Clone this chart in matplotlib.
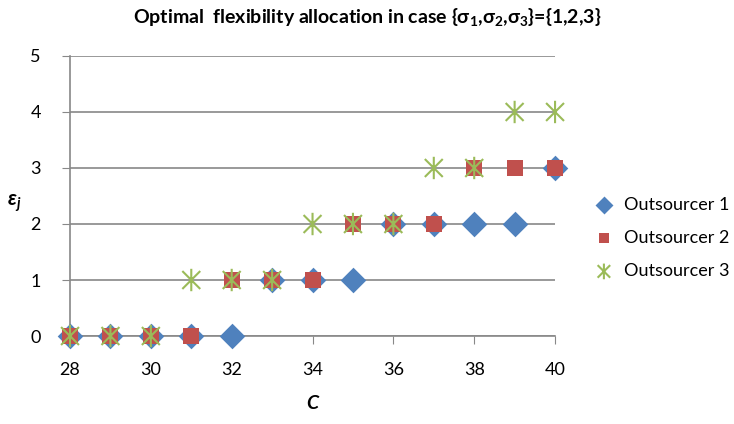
import numpy as np
import matplotlib.pyplot as plt
from matplotlib.path import Path

# Data
C = [28, 29, 30, 31, 32, 33, 34, 35, 36, 37, 38, 39, 40]
out1 = [0, 0, 0, 0, 0, 1, 1, 1, 2, 2, 2, 2, 3]
out2 = [0, 0, 0, 0, 1, 1, 1, 2, 2, 2, 3, 3, 3]
out3 = [0, 0, 0, 1, 1, 1, 2, 2, 2, 3, 3, 4, 4]
labels = ['Outsourcer 1', 'Outsourcer 2', 'Outsourcer 3']

plt.rcParams['font.family'] = ['Lato', 'DejaVu Sans']
plt.rcParams['mathtext.fontset'] = 'custom'
plt.rcParams['mathtext.rm'] = 'Lato:bold'
plt.rcParams['mathtext.it'] = 'Lato:bold:italic'
plt.rcParams['mathtext.bf'] = 'Lato:bold'

# Excel-style star: X plus vertical bar
star = Path([(-1, -1), (1, 1), (-1, 1), (1, -1), (0, -1.25), (0, 1.25)],
            [Path.MOVETO, Path.LINETO, Path.MOVETO, Path.LINETO, Path.MOVETO, Path.LINETO])

fig = plt.figure(figsize=(7.34, 4.24), dpi=100)
ax = fig.add_axes([0.0954, 0.2075, 0.6608, 0.6605])

ax.scatter(C, out1, marker='D', s=170, color='#4F81BD', label=labels[0], zorder=3,
           linewidths=0, clip_on=False)
ax.scatter(C, out2, marker='s', s=120, color='#C0504D', label=labels[1], zorder=4,
           linewidths=0, clip_on=False)
ax.scatter(C, out3, marker=star, s=260, facecolor='none', edgecolor='#9BBB59',
           linewidths=1.5, label=labels[2], zorder=5, clip_on=False)

ax.set_xlim(28, 40)
ax.set_ylim(0, 5)
ax.set_xticks(np.arange(28, 41, 2))
ax.set_yticks(np.arange(0, 6, 1))
ax.grid(axis='y', color='#888888', linewidth=1.2)
ax.set_axisbelow(True)
for s in ['top', 'right']:
    ax.spines[s].set_visible(False)
for s in ['left', 'bottom']:
    ax.spines[s].set_color('#888888')
    ax.spines[s].set_linewidth(1.2)
ax.tick_params(axis='x', length=6, color='#888888', labelsize=13, pad=13)
ax.tick_params(axis='y', length=6, color='#888888', labelsize=13, pad=15)

fig.suptitle('Optimal  flexibility allocation in case {σ$_1$,σ$_2$,σ$_3$}={1,2,3}',
             x=0.5, y=0.985, fontsize=14, fontweight='bold')
ax.set_xlabel('C', fontsize=14, fontweight='bold', style='italic', labelpad=12)
ax.set_ylabel('ε$_j$', fontsize=15, fontweight='bold', style='italic', rotation=0)
ax.yaxis.set_label_coords(-0.115, 0.435)

leg = ax.legend(loc='center left', bbox_to_anchor=(1.03, 0.35), frameon=False,
                fontsize=13, handletextpad=0.1, labelspacing=0.95, scatterpoints=1,
                markerscale=0.7)

fig.savefig('out.png', dpi=100)
